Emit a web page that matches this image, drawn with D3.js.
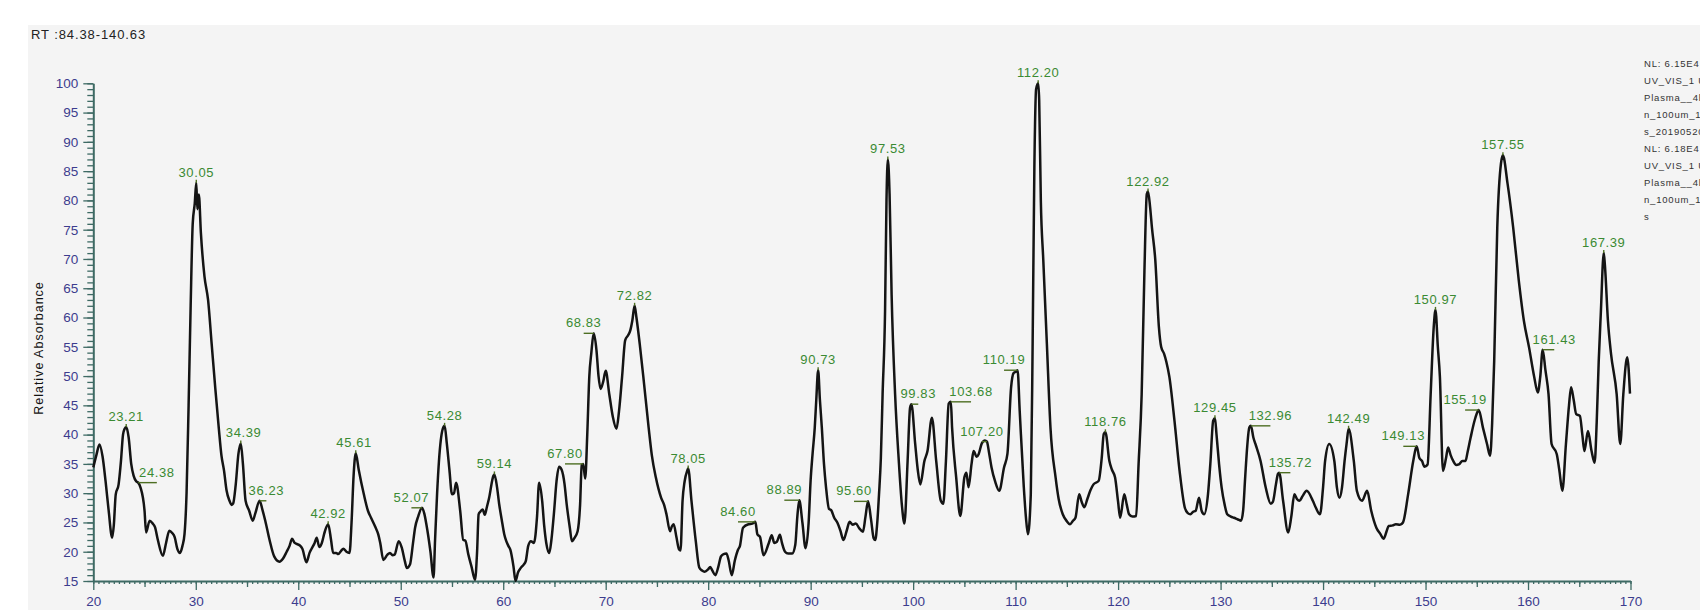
<!DOCTYPE html>
<html><head><meta charset="utf-8">
<script src="https://cdn.jsdelivr.net/npm/d3@7"></script>
<style>
html,body{margin:0;padding:0;background:#fff;}
svg{display:block;}
text{font-family:"Liberation Sans",Arial,sans-serif;}
</style></head><body>
<svg id="c" width="1700" height="610"></svg>
<script>
// ---- data ----
const retentionTimes = [
20.0,20.3,20.6,20.9,21.2,21.5,21.84,22.0,22.19,22.47,22.7,22.9,23.06,23.21,23.45,23.7,23.93,24.2,24.38,24.6,25.0,25.15,25.5,25.8,26.02,26.3,26.79,27.1,27.42,27.7,27.94,28.2,28.46,28.7,28.9,29.1,29.3,29.5,29.7,29.9,30.05,30.15,30.3,30.5,30.85,31.2,31.55,31.9,32.24,32.5,32.76,33.0,33.29,33.5,33.64,33.9,34.16,34.39,34.6,34.86,35.21,35.56,35.8,36.23,36.5,36.78,37.2,37.65,38.17,38.5,38.87,39.15,39.4,39.65,39.9,40.2,40.4,40.8,41.1,41.3,41.6,41.8,42.05,42.3,42.6,42.92,43.2,43.4,43.7,43.9,44.2,44.4,44.7,45.0,45.2,45.4,45.61,45.9,46.4,46.8,47.1,47.5,47.8,48.0,48.3,48.7,48.95,49.2,49.4,49.8,50.1,50.4,50.6,50.9,51.2,51.4,51.7,52.07,52.3,52.5,52.9,53.2,53.35,53.55,53.73,54.1,54.28,54.5,54.75,55.0,55.2,55.4,55.8,56.1,56.3,56.6,56.9,57.25,57.45,57.6,57.74,58.0,58.2,58.4,58.6,59.05,59.14,59.4,59.6,59.85,60.1,60.3,60.5,60.7,61.0,61.2,61.45,61.7,62.0,62.2,62.44,62.7,63.0,63.3,63.5,63.8,64.0,64.2,64.5,64.7,64.97,65.2,65.45,65.7,65.98,66.2,66.5,66.7,66.9,67.26,67.5,67.66,67.8,68.0,68.2,68.4,68.6,68.83,69.1,69.3,69.5,69.75,70.0,70.35,70.7,71.05,71.3,71.6,71.9,72.2,72.4,72.6,72.82,73.0,73.32,73.67,74.19,74.5,74.89,75.41,75.7,75.93,76.28,76.45,76.63,76.9,77.15,77.3,77.5,77.7,77.95,78.05,78.37,78.79,79.13,79.4,79.65,80.0,80.2,80.4,80.7,81.0,81.25,81.5,81.78,82.0,82.3,82.6,82.9,83.1,83.4,83.95,84.3,84.6,84.8,85.06,85.4,85.9,86.2,86.45,86.7,87.0,87.2,87.5,87.8,88.2,88.5,88.7,88.89,89.2,89.5,89.8,90.0,90.2,90.4,90.55,90.73,90.9,91.09,91.3,91.5,91.79,92.0,92.3,92.6,92.9,93.2,93.5,93.8,94.1,94.4,94.75,95.1,95.35,95.6,95.9,96.15,96.3,96.5,96.67,96.85,97.02,97.26,97.4,97.53,97.7,97.9,98.24,98.6,98.9,99.15,99.46,99.7,99.83,100.2,100.45,100.7,101.1,101.4,101.83,102.25,102.7,102.94,103.2,103.47,103.68,103.8,104.2,104.6,105.0,105.2,105.4,105.7,105.9,106.2,106.4,106.7,107.0,107.2,107.4,107.65,108.0,108.4,108.87,109.2,109.56,109.8,110.09,110.19,110.4,110.8,111.0,111.2,111.48,111.66,111.83,112.0,112.2,112.3,112.46,112.7,113.05,113.4,113.9,114.2,114.6,115.0,115.3,115.6,115.84,116.2,116.45,116.7,117.0,117.3,117.6,118.1,118.4,118.6,118.76,119.15,119.4,119.7,120.0,120.2,120.6,120.85,121.07,121.4,121.76,122.0,122.3,122.57,122.8,122.92,123.12,123.3,123.63,123.98,124.2,124.49,124.7,125.0,125.5,126.0,126.5,126.8,127.06,127.3,127.57,127.9,128.15,128.4,128.77,129.0,129.28,129.45,129.6,129.85,130.1,130.4,130.65,131.0,131.3,131.7,132.0,132.2,132.4,132.6,132.8,132.96,133.2,133.4,133.9,134.4,134.9,135.1,135.4,135.6,135.72,136.1,136.6,136.9,137.2,137.45,137.7,138.0,138.4,139.0,139.3,139.7,140.0,140.2,140.6,141.1,141.35,141.6,141.85,142.1,142.3,142.49,143.0,143.3,143.8,144.3,144.7,145.2,145.6,145.9,146.2,146.4,146.8,147.1,147.5,147.8,148.3,148.8,149.13,149.4,149.65,149.9,150.2,150.5,150.8,150.97,151.2,151.4,151.7,152.0,152.2,152.45,152.7,153.0,153.25,153.6,153.9,154.1,154.4,154.8,155.1,155.19,155.6,156.0,156.3,156.5,156.7,157.0,157.36,157.55,158.0,158.55,159.1,159.6,160.1,160.6,160.95,161.2,161.43,161.7,162.0,162.3,162.8,163.05,163.35,163.7,164.0,164.2,164.45,164.7,165.06,165.3,165.5,165.85,166.2,166.5,166.7,166.9,167.1,167.39,167.5,167.8,168.1,168.65,169.0,169.3,169.68,169.95
];
const absorbance = [
34.4,36.5,38.3,36.3,32.0,27.0,22.4,24.5,29.8,31.5,35.5,40.0,41.0,41.3,39.5,35.0,33.0,32.0,31.8,31.0,27.0,23.3,25.3,24.8,24.2,22.0,19.3,21.5,23.6,23.2,22.5,20.5,19.8,21.0,23.0,30.0,45.0,62.0,76.0,79.5,83.0,78.5,81.0,74.4,67.0,63.0,55.5,48.0,41.2,36.5,33.8,30.5,28.7,28.0,28.2,31.5,36.7,38.5,35.0,28.7,27.0,25.3,26.5,28.7,27.2,25.3,22.0,19.2,18.3,18.8,20.0,21.0,22.2,21.5,21.3,21.0,20.5,18.2,19.8,20.5,21.5,22.4,20.8,21.5,23.5,24.7,22.0,19.8,19.8,19.6,20.2,20.5,20.0,19.8,25.0,33.0,36.8,34.0,29.8,27.0,25.8,24.3,23.0,21.5,18.6,19.5,19.8,19.4,19.5,21.8,20.7,18.4,17.2,17.8,21.5,24.1,26.0,27.5,26.5,24.7,20.0,15.6,22.0,30.0,35.5,41.0,41.5,38.4,34.0,29.8,30.0,31.8,27.0,22.0,21.9,19.5,17.5,15.2,20.0,26.4,26.8,27.2,26.3,27.6,29.0,33.0,33.2,31.0,28.2,25.5,23.0,21.8,21.0,20.3,17.5,15.0,16.5,17.2,17.8,18.4,21.0,21.8,21.5,26.0,31.8,28.7,24.4,21.5,19.8,22.0,27.0,32.0,34.5,34.0,31.6,28.0,24.1,21.8,22.2,23.5,28.0,34.8,35.0,32.5,40.0,49.9,54.0,57.3,54.4,50.0,47.8,49.0,50.9,46.9,43.0,41.0,44.0,49.9,56.1,57.0,57.8,59.5,62.0,60.0,55.5,49.9,41.2,36.5,32.7,29.2,28.0,26.4,23.5,24.3,24.7,22.5,20.4,20.2,28.7,32.0,33.8,34.2,28.7,21.8,17.3,16.8,16.6,17.0,17.4,16.8,16.0,17.5,19.2,19.6,19.7,18.5,16.0,18.5,20.3,21.0,24.1,24.7,24.8,25.1,23.0,22.5,19.4,21.4,22.8,21.5,21.7,22.9,21.5,20.0,19.7,19.7,21.2,26.0,28.8,24.9,20.6,24.9,32.3,37.0,41.2,46.0,51.0,46.0,41.2,35.0,31.0,27.3,27.1,25.8,25.0,23.6,22.0,23.5,25.1,24.6,24.8,24.0,23.4,26.0,28.6,25.4,22.3,22.0,25.0,29.8,36.0,46.9,61.1,80.0,87.0,81.1,63.9,46.9,35.5,28.0,24.8,35.5,44.6,45.2,38.4,34.0,31.5,35.5,37.2,42.9,35.5,28.7,28.2,35.5,45.3,45.6,41.2,32.7,26.1,32.7,33.5,31.0,35.0,37.2,36.2,36.7,38.5,39.0,38.8,37.0,34.4,32.0,30.4,34.4,36.7,48.1,50.5,50.8,51.0,44.0,31.0,26.0,23.0,29.8,55.5,85.7,99.0,100.0,97.1,80.0,69.8,55.5,41.2,32.7,29.0,26.4,25.2,24.7,25.3,25.8,29.8,28.5,27.6,29.0,30.5,31.5,32.1,36.0,40.1,40.4,35.5,34.0,32.7,28.5,25.8,29.8,28.0,26.4,26.0,26.1,35.0,46.9,68.0,81.1,81.5,78.9,75.4,69.8,58.4,55.0,53.8,52.5,49.9,42.4,33.8,27.6,26.6,26.4,26.8,27.0,29.2,27.0,26.4,29.8,35.0,42.4,42.8,40.1,35.0,31.0,28.0,26.4,26.0,25.8,25.5,25.3,27.0,32.7,38.0,41.2,41.5,39.5,38.4,35.5,31.0,28.2,28.5,31.5,33.3,33.5,28.7,23.3,26.0,29.8,29.0,28.7,29.5,30.4,28.7,27.5,26.4,31.0,35.5,38.4,35.5,31.0,29.2,31.0,35.5,38.5,41.0,35.5,30.4,28.7,30.4,27.0,24.1,23.0,22.2,23.5,24.4,24.5,24.7,24.6,25.0,29.8,35.5,38.0,36.0,35.5,34.5,34.9,46.9,58.4,61.3,55.0,49.9,33.8,36.0,37.8,36.5,35.5,34.8,34.9,35.5,35.5,37.0,39.5,42.5,44.0,44.2,41.2,38.4,36.4,42.0,52.6,75.4,86.3,87.7,82.9,75.4,66.3,59.4,54.9,49.9,47.2,50.0,54.5,51.0,46.9,38.4,36.7,34.0,30.4,38.4,45.0,48.1,46.0,43.5,43.2,40.0,37.2,40.6,37.2,35.2,42.0,52.6,60.6,71.0,69.0,59.4,53.8,46.9,38.4,46.9,53.2,47.0
];
const peakRT      = [23.21,24.38,30.05,34.39,36.23,42.92,45.61,52.07,54.28,59.14,67.80,68.83,72.82,78.05,84.60,88.89,90.73,95.60,97.53,99.83,103.68,107.20,110.19,112.20,118.76,122.92,129.45,132.96,135.72,142.49,149.13,150.97,155.19,157.55,161.43,167.39];
// retention time at which each peak's label text is centred
const peakLabelRT = [23.21,26.20,30.05,34.67,36.89,42.92,45.45,51.04,54.28,59.14,66.03,67.85,72.82,78.05,82.91,87.43,90.73,94.23,97.53,100.50,105.65,106.71,108.87,112.20,118.76,122.92,129.45,134.86,136.81,142.49,147.83,150.97,153.86,157.55,162.56,167.39];
const xTickLabels = [20,30,40,50,60,70,80,90,100,110,120,130,140,150,160,170];
const yTickLabels = [15,20,25,30,35,40,45,50,55,60,65,70,75,80,85,90,95,100];
const rangeTitle = "RT :84.38-140.63";
const yTitle = "Relative Absorbance";
const noteLines = ["NL: 6.15E4","UV_VIS_1 UV","Plasma__4h_","n_100um_1_","s_20190520","NL: 6.18E4","UV_VIS_1 UV","Plasma__4h_","n_100um_1_","s"];

// ---- drawing ----
const svg = d3.select("#c");
const W = 1700, H = 610;
const m = {left: 93.3, right: 1630.5, top: 83.3, bottom: 581};

svg.append("rect").attr("x",28).attr("y",25).attr("width",W-28).attr("height",H-25).attr("fill","#f4f4f4");

const x = d3.scaleLinear().domain([20,170]).range([m.left, m.right]);
const y = d3.scaleLinear().domain([15,100]).range([m.bottom, m.top]);

const axisColor = "#3e6a64", tickText = "#3c3c8e", green = "#3a8a32", leader = "#4d6e22";

function styleAxis(g){
  g.selectAll(".domain").attr("stroke", axisColor).attr("stroke-width", 2);
  g.selectAll(".tick line").attr("stroke", axisColor).attr("stroke-width", 1.3);
}
const minorX = d3.range(20, 170.001, 0.5);
const midX = d3.range(25, 170, 10);
svg.append("g").attr("transform",`translate(0,${m.bottom})`)
  .call(d3.axisBottom(x).tickValues(minorX).tickSize(3).tickSizeOuter(0).tickFormat(""))
  .call(styleAxis);
svg.append("g").attr("transform",`translate(0,${m.bottom})`)
  .call(d3.axisBottom(x).tickValues(midX).tickSize(6).tickSizeOuter(0).tickFormat(""))
  .call(g=>g.select(".domain").remove()).call(styleAxis);
const gx = svg.append("g").attr("transform",`translate(0,${m.bottom})`)
  .call(d3.axisBottom(x).tickValues(xTickLabels).tickSize(9).tickSizeOuter(0).tickPadding(6).tickFormat(d3.format("d")))
  .call(g=>g.select(".domain").remove()).call(styleAxis);
gx.selectAll(".tick text").attr("fill", tickText).attr("font-size", 13.5)
  .attr("font-family",'"Liberation Sans",Arial,sans-serif');

const minorY = d3.range(15, 100.001, 1);
svg.append("g").attr("transform",`translate(${m.left},0)`)
  .call(d3.axisLeft(y).tickValues(minorY).tickSize(6).tickSizeOuter(0).tickFormat(""))
  .call(styleAxis);
const gy = svg.append("g").attr("transform",`translate(${m.left},0)`)
  .call(d3.axisLeft(y).tickValues(yTickLabels).tickSize(10).tickSizeOuter(0).tickPadding(5).tickFormat(d3.format("d")))
  .call(g=>g.select(".domain").remove()).call(styleAxis);
gy.selectAll(".tick text").attr("fill", tickText).attr("font-size", 13.5)
  .attr("font-family",'"Liberation Sans",Arial,sans-serif');

svg.append("text").attr("x",31).attr("y",39).attr("font-size",13).attr("letter-spacing",0.9)
  .attr("fill","#222").text(rangeTitle);
svg.append("text").attr("transform","translate(43,348) rotate(-90)").attr("text-anchor","middle")
  .attr("font-size",12.5).attr("letter-spacing",1.0).attr("fill","#111").text(yTitle);

svg.append("g").selectAll("text").data(noteLines).join("text")
  .attr("x",1644).attr("y",(d,i)=>66.5 + i*17)
  .attr("font-size",9.5).attr("letter-spacing",0.8).attr("fill","#333").text(d=>d);

const pts = retentionTimes.map((t,i)=>[t, absorbance[i]]);
const line = d3.line().x(d=>x(d[0])).y(d=>y(d[1])).curve(d3.curveMonotoneX);
svg.append("path").datum(pts).attr("d", line).attr("fill","none")
  .attr("stroke","#141414").attr("stroke-width",2.5).attr("stroke-linejoin","round");

const bis = d3.bisector(d=>d).left;
function valueAt(t){
  const i = Math.min(Math.max(bis(retentionTimes, t),1), retentionTimes.length-1);
  const t0 = retentionTimes[i-1], t1 = retentionTimes[i];
  const k = (t - t0)/(t1 - t0);
  return absorbance[i-1] + Math.max(0,Math.min(1,k))*(absorbance[i]-absorbance[i-1]);
}
const peaks = peakRT.map((t,i)=>({t, lt: peakLabelRT[i], v: valueAt(t)}));
const gp = svg.append("g");
gp.selectAll("line.ld").data(peaks).join("line").attr("class","ld")
  .attr("x1",d=>x(d.t)).attr("x2",d=>Math.abs(x(d.lt)-x(d.t))<3 ? x(d.t) : x(d.lt))
  .attr("y1",d=>y(d.v)).attr("y2",d=>Math.abs(x(d.lt)-x(d.t))<3 ? y(d.v)-3 : y(d.v))
  .attr("stroke",leader).attr("stroke-width",1.4);
gp.selectAll("text").data(peaks).join("text")
  .attr("x",d=>x(d.lt)).attr("y",d=>y(d.v)-6).attr("text-anchor","middle")
  .attr("font-size",13).attr("letter-spacing",0.6).attr("fill",green)
  .text(d=>d.t.toFixed(2));
</script>
</body></html>
